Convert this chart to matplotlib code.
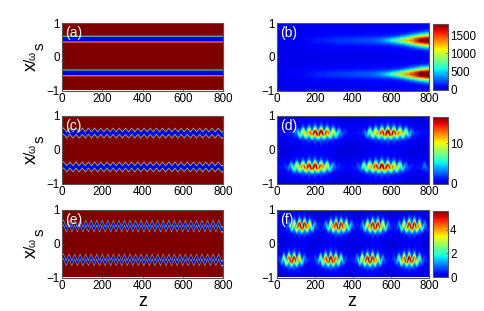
import numpy as np
import matplotlib
matplotlib.use("Agg")
import matplotlib.pyplot as plt
from matplotlib.colors import ListedColormap

plt.rcParams['font.family'] = ['Liberation Sans', 'DejaVu Sans']

W, H = 485, 311
Z_MAX = 800

panel_labels = ['(a)', '(b)', '(c)', '(d)', '(e)', '(f)']
z_ticks = [0, 200, 400, 600, 800]
x_ticks = [-1, 0, 1]
cbar_ticks_b = [0, 500, 1000, 1500]
cbar_ticks_d = [0, 10]
cbar_ticks_f = [0, 2, 4]
vmax_b, vmax_d, vmax_f = 1800, 16.6, 5.6

# left-column bands: level against distance from the band's centre line
band_centres = [0.5, -0.5]
band_dist_a = [0.00, 0.065, 0.085, 0.105, 2.0]
band_level_a = [0.00, 0.02, 0.50, 1.00, 1.00]
band_dist_c = [0.00, 0.065, 0.09, 0.115, 2.0]
band_level_c = [0.00, 0.02, 0.50, 1.00, 1.00]
band_dist_e = [0.00, 0.045, 0.07, 0.10, 2.0]
band_level_e = [0.00, 0.05, 0.50, 1.00, 1.00]

# ridge offset per column
ripple_c = [0.055, -0.055] * 26
ripple_e = [0.10, -0.10] * 29

# panel (b): narrow ridge and broad skirt at these z
z_b = [0, 100, 200, 300, 400, 500, 550, 600, 650, 700, 750, 800]
amp_b_upper = [0, 0, 40, 70, 90, 110, 160, 380, 640, 1000, 1480, 1660]
amp_b_lower = [0, 0, 60, 90, 110, 140, 220, 460, 760, 1160, 1640, 1800]
skirt_b = [15, 25, 60, 80, 100, 130, 150, 170, 190, 210, 240, 260]
width_b = [0.10, 0.10, 0.10, 0.09, 0.09, 0.08, 0.07, 0.065, 0.075, 0.095, 0.115, 0.13]
floor_b = [30, 30, 30, 30, 25, 20, 20, 20, 25, 30, 35, 40]

# panel (d): ridge height per 16-unit column
amp_d_upper = [.6, .6, .8, 1, 1.2, 1.6, 3, 7, 9, 10.5, 12, 14, 15.5, 16.5, 16, 14.5, 13,
               11, 9, 7, 4, 2, 1.2, .8, .6, .6, .7, 1, 1.4, 4, 7, 9, 10.5, 12, 14, 15.5,
               16.5, 16, 14.5, 13, 11, 9.5, 7.5, 5, 2.2, 1.4, 1, .8, .7, .6]
amp_d_lower = [.7, .8, 1, 2, 4, 7, 9, 10.5, 12, 14, 15.5, 16.5, 16, 14.5, 13, 11, 9, 6, 3,
               1.6, 1.1, .8, .6, .6, .7, 1, 1.5, 3, 6.5, 9, 10.5, 12, 14, 15.5, 16.5, 16,
               14.5, 13, 11, 9.5, 7.5, 5, 2.5, 1.5, 1, .8, .7, 1, 2.8, 2]
ripple_d = [0.07, -0.07] * 25
halo_d = [0.24, 0.07] * 25
base_d = 0.5

# panel (f): ridge height per 13.8-unit column
amp_f_upper = [.2, .2, .3, .5, 1, 2.2, 3.4, 4.4, 5.2, 5.6, 5.2, 4.4, 3.4, 2.2, 1, .5, .3, .4, 1,
               2.2, 3.4, 4.4, 5.2, 5.6, 5.2, 4.4, 3.4, 2.2, 1, .5, .3, .4, 1, 2.2, 3.4, 4.4,
               5.2, 5.6, 5.2, 4.4, 3.4, 2.2, 1, .5, .3, .5, 1, 2.2, 3.4, 4.4, 5.2, 5.6, 5.2,
               4.4, 3.4, 2.2, 1, .5]
amp_f_lower = [.3, 1, 2.2, 3.4, 4.6, 5.6, 5.2, 4.4, 3.4, 2.2, 1, .5, .3, .3, .5, 1, 2.2, 3.4,
               4.4, 5.2, 5.6, 5.2, 4.4, 3.4, 2.2, 1, .5, .3, .3, .5, 1, 2.2, 3.4, 4.4, 5.2,
               5.6, 5.2, 4.4, 3.4, 2.2, 1, .5, .3, .3, .5, 1, 2.2, 3.4, 4.4, 5.2, 5.6, 5.2,
               4.4, 3.4, 2.2, 1, .5, .3]
ripple_f = [0.10, -0.10] * 29
halo_f = [0.26, 0.07] * 29
base_f = 0.15

# how far the ridge dims at the turning points of its zigzag
stroke_dip = 0.38

x = np.linspace(-1, 1, 161)
z_fine = np.linspace(0, Z_MAX, 481)
jet_cut = ListedColormap(plt.get_cmap('jet')(np.linspace(0.08, 1, 256)))


def on_fine(values):
    nodes = (np.arange(len(values)) + 0.5) * Z_MAX / len(values)
    return np.interp(z_fine, nodes, values)


def band_field(ripple, dist, level):
    rip = on_fine(ripple)
    field = np.ones((x.size, z_fine.size))
    for c in band_centres:
        d = np.abs(x[:, None] - c - rip[None, :])
        field = np.minimum(field, np.interp(d, dist, level))
    return field


def ridge_field(amp_u, amp_l, ripple, halo, core, wide, base):
    rip, hal = on_fine(ripple), on_fine(halo)
    stroke = 1 - stroke_dip * np.abs(rip) / np.max(np.abs(rip))
    field = np.zeros((x.size, z_fine.size))
    for c, amp in zip(band_centres, (amp_u, amp_l)):
        a = on_fine(amp)
        field += a * (stroke * np.exp(-((x[:, None] - c - rip) / core) ** 2)
                      + hal * np.exp(-((x[:, None] - c) / wide) ** 2))
        field += base * (0.6 + hal) * np.exp(-((x[:, None] - c) / wide) ** 2)
    return field


def b_field():
    field = np.zeros((x.size, len(z_b)))
    for j in range(len(z_b)):
        field[:, j] = (amp_b_upper[j] * np.exp(-((x - 0.5) / (width_b[j] * 1.414)) ** 2)
                       + amp_b_lower[j] * np.exp(-((x + 0.5) / (width_b[j] * 1.414)) ** 2)
                       + skirt_b[j] * (np.exp(-((x - 0.5) / 0.27) ** 2)
                                       + np.exp(-((x + 0.5) / 0.27) ** 2))
                       + floor_b[j])
    return field


def box(l, t, r, b):
    return [l / W, 1 - b / H, (r - l) / W, (b - t) / H]


def style(ax, label):
    ax.set_xlim(0, Z_MAX)
    ax.set_ylim(-1, 1)
    ax.set_xticks(z_ticks)
    ax.set_yticks(x_ticks)
    ax.tick_params(direction='in', length=1.5, width=0.5, color='#555555', labelsize=8.4, pad=1.5)
    for s in ax.spines.values():
        s.set_color('#555555')
        s.set_linewidth(0.8)
    ax.text(0.02, 0.85, label, transform=ax.transAxes, color='white', fontsize=10,
            ha='left', va='center')


fig = plt.figure(figsize=(W / 100, H / 100), dpi=100)
ext = [0, Z_MAX, -1, 1]
rows = [(23, 90.5), (116, 184), (210, 277.5)]
left_fields = [band_field([0.0, 0.0], band_dist_a, band_level_a),
               band_field(ripple_c, band_dist_c, band_level_c),
               band_field(ripple_e, band_dist_e, band_level_e)]
right_fields = [b_field(),
                ridge_field(amp_d_upper, amp_d_lower, ripple_d, halo_d, 0.115, 0.33, base_d),
                ridge_field(amp_f_upper, amp_f_lower, ripple_f, halo_f, 0.115, 0.33, base_f)]
vmaxes = [vmax_b, vmax_d, vmax_f]
cticks = [cbar_ticks_b, cbar_ticks_d, cbar_ticks_f]

for i, (t, b) in enumerate(rows):
    axl = fig.add_axes(box(62, t, 223, b))
    axl.imshow(left_fields[i], origin='lower', extent=ext, aspect='auto', cmap=jet_cut,
               vmin=0, vmax=1, interpolation='antialiased')
    style(axl, panel_labels[2 * i])

    mid = (t + b) / 2
    for s, px, py, fs in [('x', 31, 10, 13), ('/', 31, 4, 11), ('ω', 33, -1, 7.5), ('s', 39.5, -11, 11)]:
        fig.text(px / W, 1 - (mid + py) / H, s, rotation=90, fontsize=fs, ha='center', va='center')

    axr = fig.add_axes(box(277, t, 429, b))
    if i == 0:
        im = axr.pcolormesh(z_b, x, right_fields[i], cmap=jet_cut, vmin=0, vmax=vmaxes[i],
                            shading='gouraud')
    else:
        im = axr.imshow(right_fields[i], origin='lower', extent=ext, aspect='auto', cmap=jet_cut,
                        vmin=0, vmax=vmaxes[i], interpolation='antialiased')
    style(axr, panel_labels[2 * i + 1])

    cax = fig.add_axes(box(433, t + 1, 448, b - 0.5))
    cb = fig.colorbar(im, cax=cax, ticks=cticks[i])
    cb.ax.tick_params(direction='in', length=1.5, width=0.5, color='#555555', labelsize=8.4, pad=1.5)
    cb.outline.set_edgecolor('#555555')
    cb.outline.set_linewidth(0.8)

fig.text(142.5 / W, 1 - 302 / H, 'z', fontsize=13, ha='center', va='center')
fig.text(352 / W, 1 - 302 / H, 'z', fontsize=13, ha='center', va='center')

fig.savefig('out.png', dpi=100)
